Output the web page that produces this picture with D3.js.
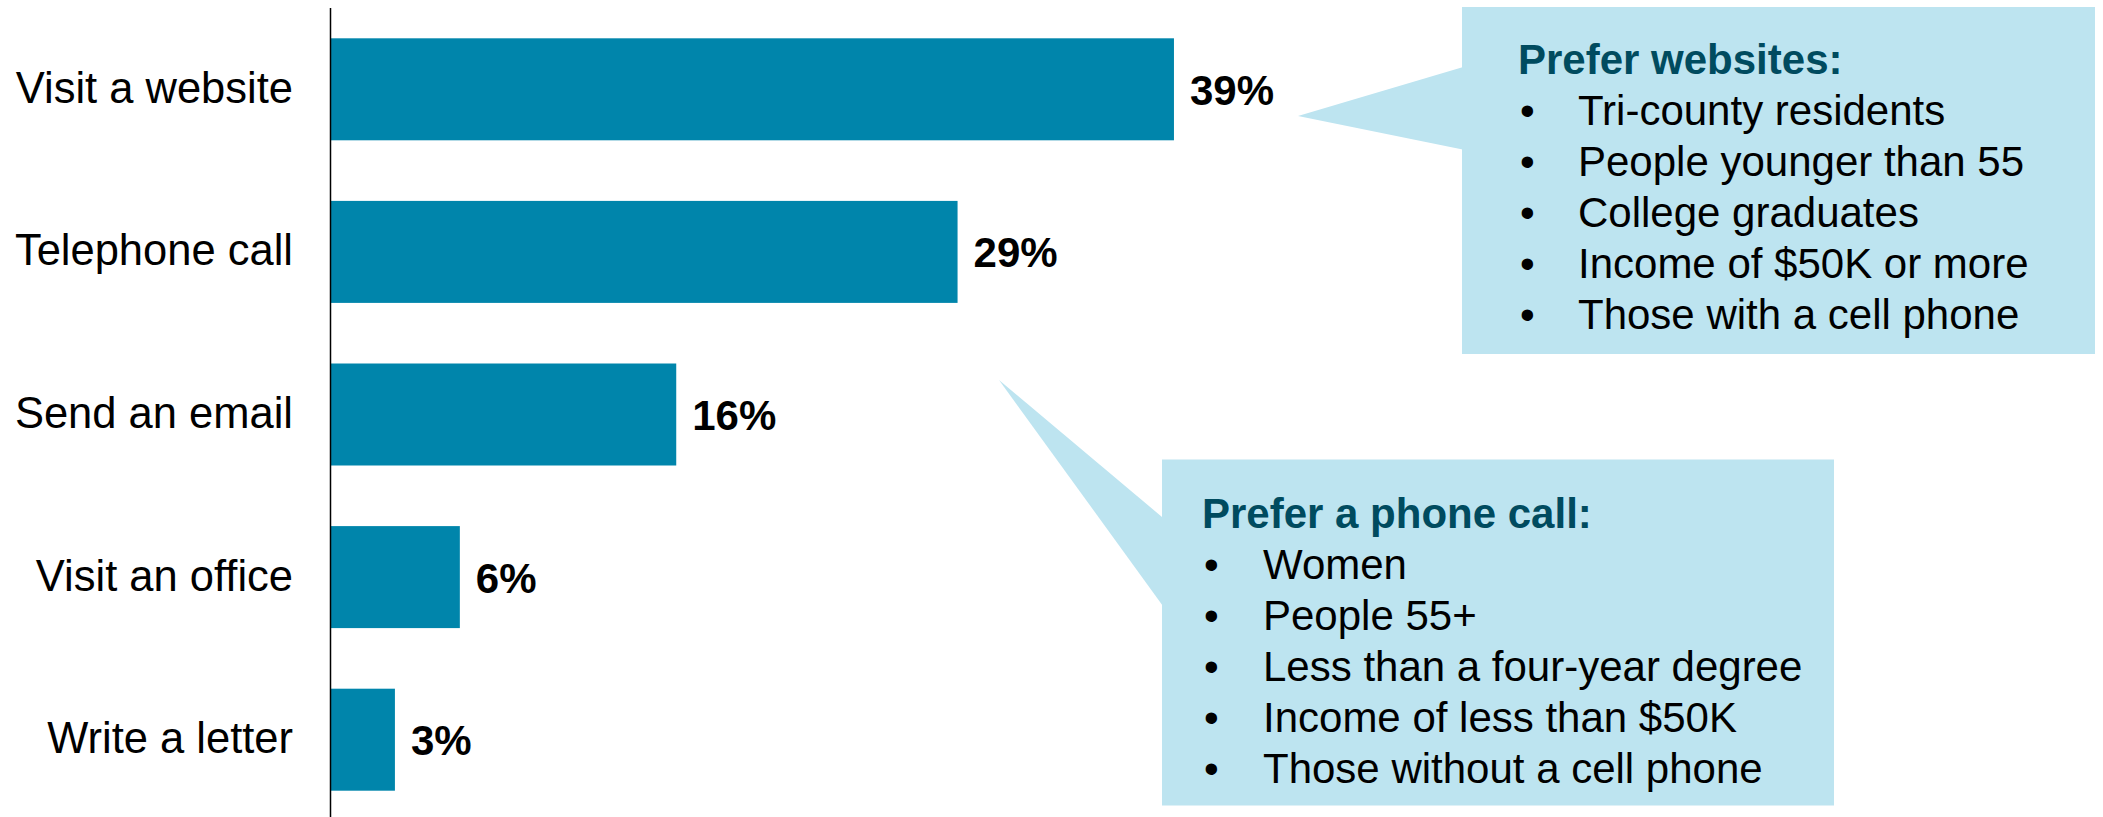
<!DOCTYPE html>
<html>
<head>
<meta charset="utf-8">
<script src="https://cdn.jsdelivr.net/npm/d3@7"></script>
<style>
  html, body { margin: 0; padding: 0; background: #ffffff; }
  svg { display: block; }
  text { font-family: "Liberation Sans", Arial, Helvetica, sans-serif; }
</style>
</head>
<body>
<svg id="chart" width="2103" height="817"></svg>
<script>
// Preferred way to contact, share of respondents (%)
const categories = ["Visit a website", "Telephone call", "Send an email", "Visit an office", "Write a letter"];
const shares = [39, 29, 16, 6, 3];

// Callout contents
const websiteTitle = "Prefer websites:";
const websiteGroups = ["Tri-county residents", "People younger than 55", "College graduates", "Income of $50K or more", "Those with a cell phone"];
const phoneTitle = "Prefer a phone call:";
const phoneGroups = ["Women", "People 55+", "Less than a four-year degree", "Income of less than $50K", "Those without a cell phone"];

const W = 2103, H = 817;
const barColor = "#0085ab";
const calloutFill = "#bde4f0";
const titleColor = "#004b5f";
const fontSize = 42;

const svg = d3.select("#chart");

const axisX = 330;
const x = d3.scaleLinear().domain([0, 40]).range([axisX, axisX + 21.64 * 40]);
const y = d3.scaleBand().domain(categories).range([8, 821]).paddingInner(0.3727).paddingOuter(0.18635);

const rows = categories.map((c, i) => ({ cat: c, v: shares[i] }));

// Bars
svg.append("g").selectAll("rect").data(rows).join("rect")
  .attr("x", x(0))
  .attr("y", d => y(d.cat))
  .attr("width", d => x(d.v) - x(0))
  .attr("height", y.bandwidth())
  .attr("fill", barColor);

// Category axis: a plain vertical line with labels, no ticks
const yAxis = d3.axisLeft(y).tickSize(0).tickPadding(37);
const gy = svg.append("g").attr("transform", `translate(${axisX},0)`).call(yAxis);
gy.select(".domain").attr("stroke", "#000").attr("stroke-width", 1.5).attr("d", `M0.5,8V${H + 5}`);
gy.selectAll(".tick text")
  .attr("font-family", "Liberation Sans, Arial, sans-serif")
  .attr("font-size", 43.5)
  .attr("fill", "#000")
  .attr("dy", "0.31em");

// Value labels
svg.append("g").selectAll("text").data(rows).join("text")
  .attr("x", d => x(d.v) + 16)
  .attr("y", d => y(d.cat) + y.bandwidth() / 2)
  .attr("dy", "0.37em")
  .attr("font-size", fontSize)
  .attr("font-weight", "bold")
  .attr("fill", "#000")
  .text(d => d.v + "%");

// Speech-bubble callouts
function callout(box, pointer, title, items, pad) {
  const g = svg.append("g");
  g.append("path")
    .attr("d", d3.line()(pointer) + "Z")
    .attr("fill", calloutFill);
  g.append("rect")
    .attr("x", box.x).attr("y", box.y)
    .attr("width", box.w).attr("height", box.h)
    .attr("fill", calloutFill);
  g.append("text")
    .attr("x", box.x + pad.title)
    .attr("y", box.y + pad.top)
    .attr("font-size", fontSize)
    .attr("font-weight", "bold")
    .attr("fill", titleColor)
    .text(title);
  const lines = g.selectAll("g.item").data(items).join("g").attr("class", "item")
    .attr("transform", (d, i) => `translate(0,${box.y + pad.top + (i + 1) * 51})`);
  lines.append("text")
    .attr("x", box.x + pad.bullet)
    .attr("font-size", fontSize)
    .attr("fill", "#000")
    .text("\u2022");
  lines.append("text")
    .attr("x", box.x + pad.text)
    .attr("font-size", fontSize)
    .attr("fill", "#000")
    .text(d => d);
}

callout(
  { x: 1462, y: 7, w: 633, h: 347 },
  [[1298, 116], [1470, 65], [1470, 151]],
  websiteTitle, websiteGroups,
  { title: 56, top: 67, bullet: 58, text: 116 }
);

callout(
  { x: 1162, y: 459.5, w: 672, h: 346 },
  [[999, 380], [1170, 523.7], [1170, 615.7]],
  phoneTitle, phoneGroups,
  { title: 40, top: 68, bullet: 42, text: 101 }
);
</script>
</body>
</html>
